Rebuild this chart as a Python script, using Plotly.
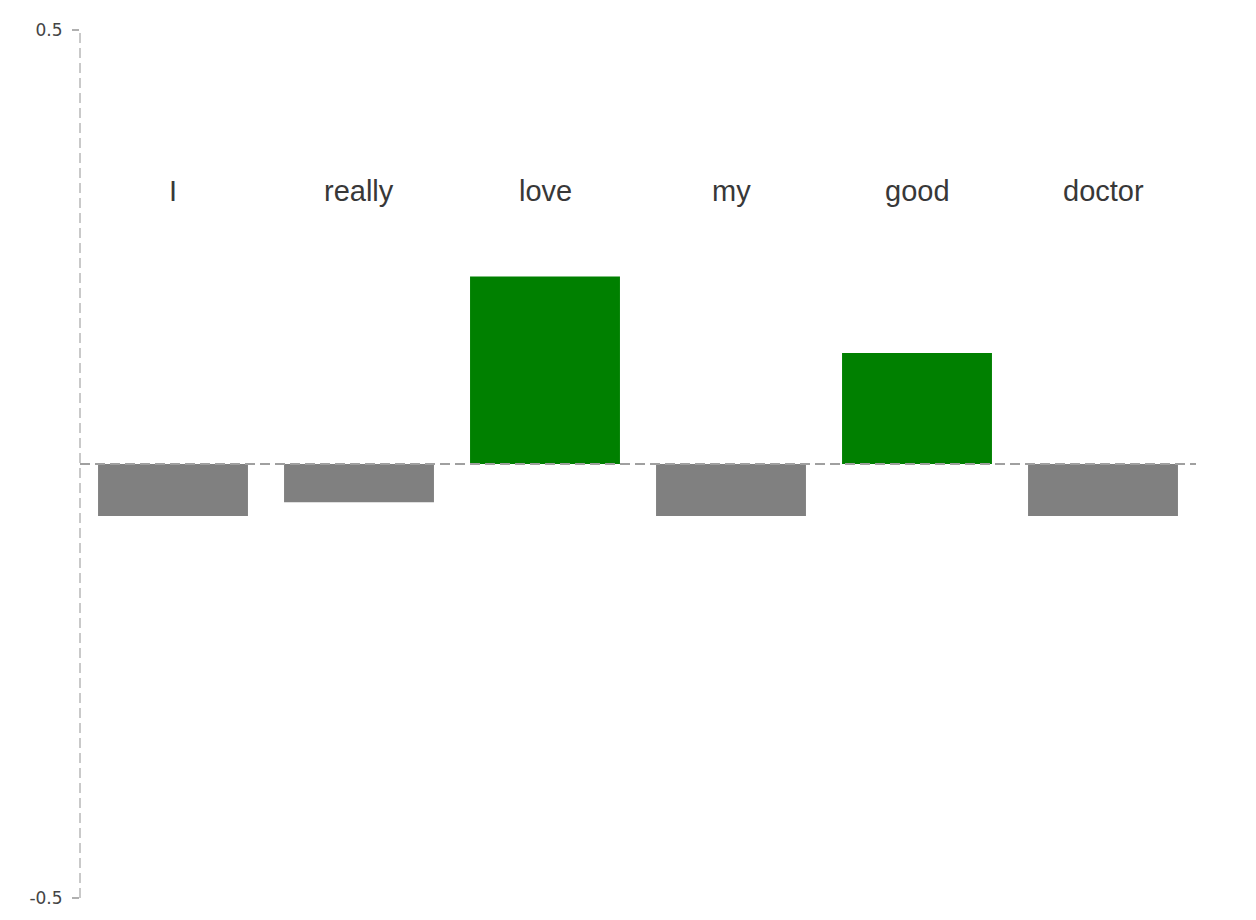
import plotly.graph_objects as go

words = ["I", "really", "love", "my", "good", "doctor"]
scores = [-0.06, -0.044, 0.216, -0.06, 0.128, -0.06]
label_level = 0.315
pos_color = "#008000"
neg_color = "#808080"

colors = [pos_color if v > 0 else neg_color for v in scores]
xs = list(range(len(words)))

fig = go.Figure()
fig.add_trace(go.Bar(
    x=xs, y=scores, marker=dict(color=colors, line=dict(width=0)),
    width=0.806, hoverinfo="skip", showlegend=False,
))

for i, w in enumerate(words):
    fig.add_annotation(x=i, y=label_level, xref="x", yref="y", text=w,
                       showarrow=False,
                       font=dict(family="Liberation Sans, Arial", size=29, color="#383838"))

# dashed zero line
fig.add_shape(type="line", xref="paper", yref="y", x0=0, x1=1, y0=0, y1=0,
              line=dict(color="#a0a0a0", width=2, dash="10px,5px"), layer="above")
# dashed y axis line
fig.add_shape(type="line", xref="paper", yref="y", x0=0, x1=0, y0=-0.5, y1=0.5,
              line=dict(color="#b8b8b8", width=1.5, dash="10px,5px"))

fig.update_layout(
    width=1256, height=920,
    margin=dict(l=80, r=60, t=30, b=22),
    paper_bgcolor="white", plot_bgcolor="white",
    xaxis=dict(range=[-0.5, 5.5], visible=False),
    yaxis=dict(range=[-0.5, 0.5], tickvals=[-0.5, 0.5], ticktext=["-0.5", "0.5"],
               showgrid=False, zeroline=False, showline=False,
               ticks="outside", ticklen=7, tickcolor="#b0b0b0", tickwidth=1.5,
               ticklabelstandoff=6,
               tickfont=dict(family="DejaVu Sans", size=17, color="#444444")),
)

fig.write_html("out.html")
